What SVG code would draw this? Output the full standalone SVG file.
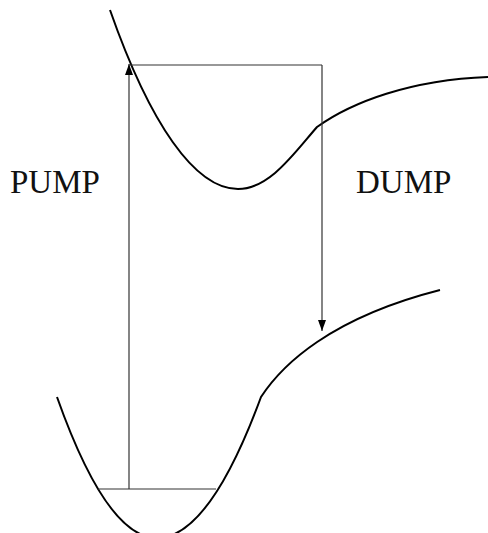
<svg xmlns="http://www.w3.org/2000/svg" width="488" height="533" viewBox="0 0 488 533">
<style>
.curve{fill:none;stroke:#000;stroke-width:2}
.conn{fill:none;stroke:#333;stroke-width:1.2}
.lbl{font-family:"Liberation Serif",serif;font-size:33px;fill:#111}
</style>
<defs>
<marker id="ah" markerWidth="11" markerHeight="8" refX="11" refY="4" orient="auto" markerUnits="userSpaceOnUse" viewBox="0 0 11 8">
<path d="M0,0 L11,4 L0,8 Z" fill="#000"/>
</marker>
</defs>
<g id="upper-curve">
<path class="curve" d="M110,10 C150,124 195,189 238,189 C270,189 295,152 317,127 C352,102 410,80 488,77"/>
</g>
<g id="lower-curve">
<path class="curve" d="M57,397 Q107,538 157,538 Q209,538 261,397 C282,365 330,318 440,290"/>
</g>
<g id="connectors">
<line class="conn" x1="98" y1="489" x2="216" y2="489"/>
<path class="conn" d="M129,489 L129,64" marker-end="url(#ah)"/>
<line class="conn" x1="129" y1="65" x2="322" y2="65"/>
<path class="conn" d="M322,65 L322,331" marker-end="url(#ah)"/>
</g>
<g id="pump-label"><text class="lbl" x="10" y="193">PUMP</text></g>
<g id="dump-label"><text class="lbl" x="356" y="193">DUMP</text></g>
</svg>
